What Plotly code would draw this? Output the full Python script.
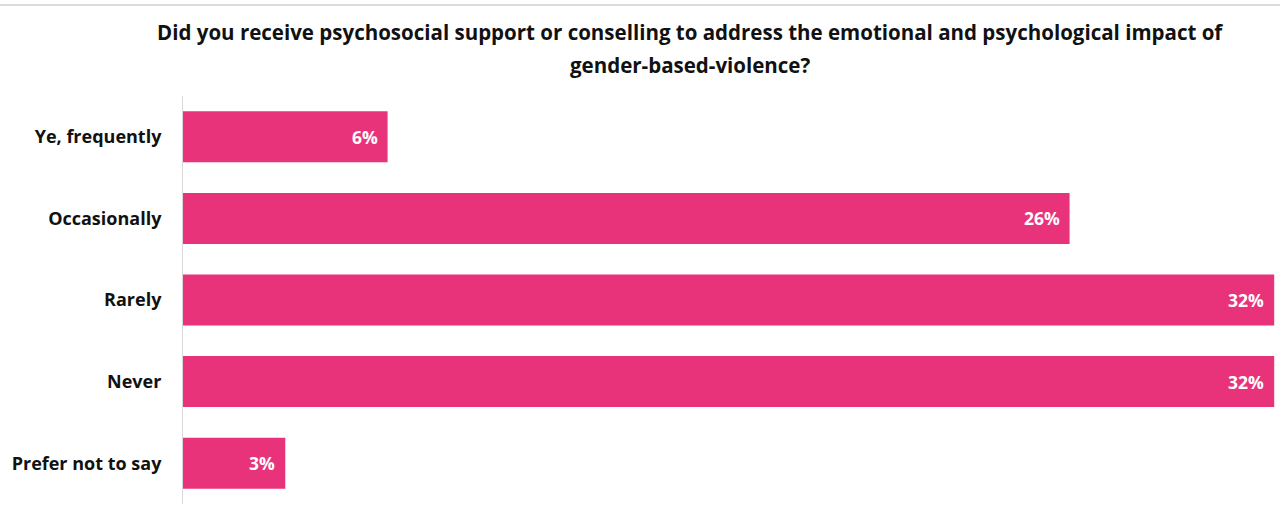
import plotly.graph_objects as go

# Survey responses, shown top to bottom
categories = ["Ye, frequently", "Occasionally", "Rarely", "Never", "Prefer not to say"]
shares = [6, 26, 32, 32, 3]
share_labels = ["6%", "26%", "32%", "32%", "3%"]
title_lines = [
    "Did you receive psychosocial support or conselling to address the emotional and psychological impact of",
    "gender-based-violence?",
]

BAR_COLOR = "#E8337A"
FONT = "'Open Sans', sans-serif"
W, H = 1280, 516
ML, MR, MT, MB = 183, 0, 96, 12

fig = go.Figure(
    go.Bar(
        y=categories,
        x=shares,
        orientation="h",
        marker=dict(color=BAR_COLOR, line=dict(width=0)),
        hoverinfo="skip",
    )
)

# Value labels at the inner end of each bar
for cat, val, lab in zip(categories, shares, share_labels):
    fig.add_annotation(
        x=val, y=cat, text=f"<b>{lab}</b>", showarrow=False,
        xanchor="right", xshift=-8, yanchor="middle",
        font=dict(family=FONT, size=17.5, color="white"),
    )

# Two-line heading, placed in pixel terms relative to the figure
for line, ypix in zip(title_lines, [32, 65]):
    fig.add_annotation(
        xref="paper", yref="paper",
        x=(690 - ML) / (W - ML - MR), y=1 + (MT - ypix) / (H - MT - MB),
        xanchor="center", yanchor="middle", showarrow=False,
        text=f"<b>{line}</b>",
        font=dict(family=FONT, size=20.5, color="#111111"),
    )

# Thin rule along the top edge
fig.add_shape(type="line", xref="paper", yref="paper",
              x0=-ML / (W - ML - MR), x1=1.0,
              y0=1 + (MT - 5) / (H - MT - MB), y1=1 + (MT - 5) / (H - MT - MB),
              line=dict(color="#DCDCDC", width=2))

fig.update_layout(
    width=W, height=H,
    margin=dict(l=ML, r=MR, t=MT, b=MB),
    paper_bgcolor="white", plot_bgcolor="white",
    bargap=0.375,
    showlegend=False,
    xaxis=dict(range=[0, 32.17], visible=False, fixedrange=True),
    yaxis=dict(
        categoryorder="array", categoryarray=categories, autorange="reversed",
        showline=True, linecolor="#D9D9D9", linewidth=1,
        showgrid=False, zeroline=False, ticks="",
        ticklabelstandoff=17,
        tickfont=dict(family=FONT, size=18, color="#111111"),
        tickprefix="<b>", ticksuffix="</b>",
    ),
)

fig.write_html("out.html")
